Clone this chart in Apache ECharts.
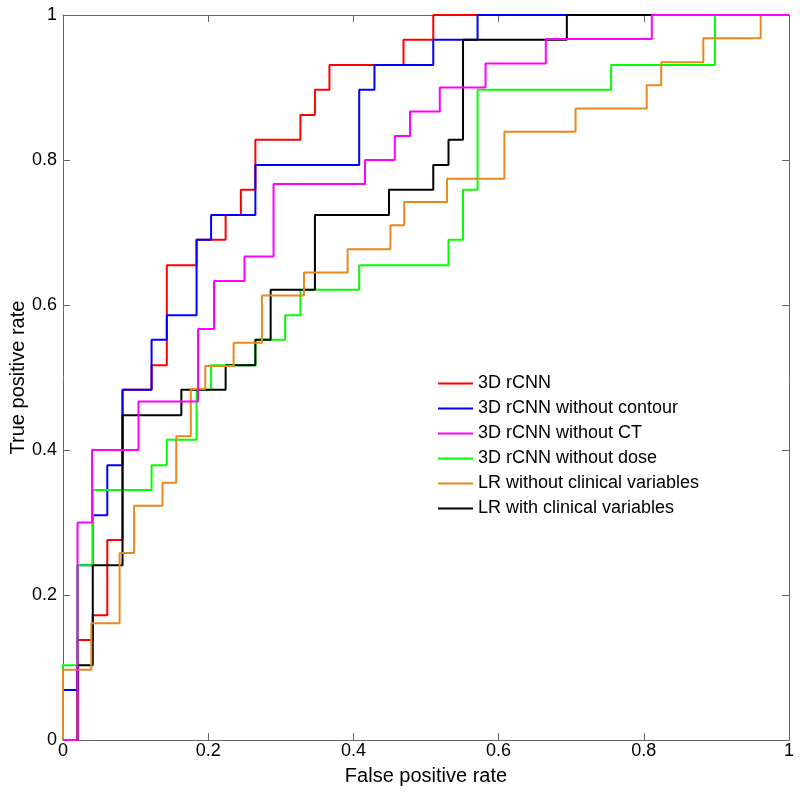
<!DOCTYPE html>
<html>
<head>
<meta charset="utf-8">
<script src="https://cdn.jsdelivr.net/npm/echarts@6/dist/echarts.min.js"></script>
<style>
  html, body { margin: 0; padding: 0; background: #fff; }
  #chart { width: 800px; height: 793px; }
</style>
</head>
<body>
<div id="chart"></div>
<script>
// ROC operating points (fpr where the curve rises, tpr after the rise)
var names = [
  "3D rCNN",
  "3D rCNN without contour",
  "3D rCNN without CT",
  "3D rCNN without dose",
  "LR without clinical variables",
  "LR with clinical variables"
];
var colors = ["#ff0000", "#0000ff", "#ff00ff", "#00ff00", "#e8891e", "#000000"];

var redFpr = [0, 0.020, 0.041, 0.061, 0.082, 0.122, 0.143, 0.184, 0.224, 0.245, 0.265, 0.327, 0.347, 0.367, 0.469, 0.510, 1];
var redTpr = [0, 0.138, 0.172, 0.276, 0.483, 0.517, 0.655, 0.690, 0.724, 0.759, 0.828, 0.862, 0.897, 0.931, 0.966, 1, 1];

var blueFpr = [0, 0, 0.020, 0.041, 0.061, 0.082, 0.122, 0.143, 0.184, 0.204, 0.265, 0.408, 0.429, 0.510, 0.571, 1];
var blueTpr = [0, 0.069, 0.241, 0.310, 0.379, 0.483, 0.552, 0.586, 0.690, 0.724, 0.793, 0.897, 0.931, 0.966, 1, 1];

var magentaFpr = [0, 0.020, 0.040, 0.104, 0.186, 0.208, 0.250, 0.290, 0.416, 0.457, 0.478, 0.519, 0.582, 0.665, 0.811, 1];
var magentaTpr = [0, 0.300, 0.400, 0.467, 0.567, 0.633, 0.667, 0.767, 0.800, 0.833, 0.867, 0.900, 0.933, 0.967, 1, 1];

var greenFpr = [0, 0, 0.020, 0.041, 0.122, 0.143, 0.184, 0.204, 0.265, 0.306, 0.327, 0.408, 0.531, 0.551, 0.571, 0.755, 0.898, 1];
var greenTpr = [0, 0.103, 0.241, 0.345, 0.379, 0.414, 0.483, 0.517, 0.552, 0.586, 0.621, 0.655, 0.690, 0.759, 0.897, 0.931, 1, 1];

var orangeFpr = [0, 0, 0.039, 0.078, 0.098, 0.137, 0.156, 0.176, 0.196, 0.235, 0.274, 0.332, 0.392, 0.451, 0.470, 0.529, 0.608, 0.706, 0.804, 0.824, 0.882, 0.961, 1];
var orangeTpr = [0, 0.097, 0.161, 0.258, 0.323, 0.355, 0.419, 0.484, 0.516, 0.548, 0.613, 0.645, 0.677, 0.710, 0.742, 0.774, 0.839, 0.871, 0.903, 0.935, 0.968, 1, 1];

var blackFpr = [0, 0.020, 0.041, 0.082, 0.163, 0.224, 0.265, 0.286, 0.347, 0.449, 0.510, 0.531, 0.551, 0.694, 1];
var blackTpr = [0, 0.103, 0.241, 0.448, 0.483, 0.517, 0.552, 0.621, 0.724, 0.759, 0.793, 0.828, 0.966, 1, 1];

var curves = [
  [redFpr, redTpr],
  [blueFpr, blueTpr],
  [magentaFpr, magentaTpr],
  [greenFpr, greenTpr],
  [orangeFpr, orangeTpr],
  [blackFpr, blackTpr]
];
// drawing order (higher on top)
var zOrder = [2, 3, 7, 4, 6, 5];

var font = "Liberation Sans, Arial, sans-serif";
var axisColor = "#666";

function pairs(xs, ys) {
  var out = [];
  for (var i = 0; i < xs.length; i++) {
    out.push([xs[i], ys[i]]);
  }
  return out;
}

var series = [];
for (var i = 0; i < curves.length; i++) {
  series.push({
    name: names[i],
    type: "line",
    step: "end",
    showSymbol: false,
    symbol: "none",
    z: zOrder[i],
    lineStyle: { color: colors[i], width: 2 },
    itemStyle: { color: colors[i] },
    data: pairs(curves[i][0], curves[i][1])
  });
}

function valueAxis(pos, showLabel) {
  return {
    type: "value",
    position: pos,
    min: 0,
    max: 1,
    interval: 0.2,
    splitLine: { show: false },
    axisLine: { show: true, onZero: false, lineStyle: { color: axisColor, width: 1 } },
    axisTick: { show: true, inside: true, length: 7, lineStyle: { color: axisColor } },
    axisLabel: {
      show: showLabel,
      fontFamily: font,
      fontSize: 18,
      color: "#000",
      formatter: function (v) { return String(+v.toFixed(1)); }
    }
  };
}

var xBottom = valueAxis("bottom", true);
xBottom.name = "False positive rate";
xBottom.nameLocation = "middle";
xBottom.nameGap = 26;
xBottom.nameMoveOverlap = false;
xBottom.nameTextStyle = { fontFamily: font, fontSize: 20, color: "#000" };
xBottom.axisLabel.margin = 2;

var yLeft = valueAxis("left", true);
yLeft.name = "True positive rate";
yLeft.nameLocation = "middle";
yLeft.nameGap = 35;
yLeft.nameMoveOverlap = false;
yLeft.nameTextStyle = { fontFamily: font, fontSize: 20, color: "#000" };
yLeft.axisLabel.margin = 6;

var chart = echarts.init(document.getElementById("chart"), null, { renderer: "canvas" });
chart.setOption({
  animation: false,
  backgroundColor: "#fff",
  grid: { left: 63, right: 11, top: 15, bottom: 53, containLabel: false, outerBoundsMode: "none" },
  xAxis: [xBottom, valueAxis("top", false)],
  yAxis: [yLeft, valueAxis("right", false)],
  legend: {
    data: names,
    orient: "vertical",
    left: 438,
    top: 371,
    padding: 0,
    itemGap: 0,
    itemWidth: 35,
    itemHeight: 2,
    icon: "rect",
    textStyle: { fontFamily: font, fontSize: 18, color: "#000", lineHeight: 25 }
  },
  series: series
});
</script>
</body>
</html>
